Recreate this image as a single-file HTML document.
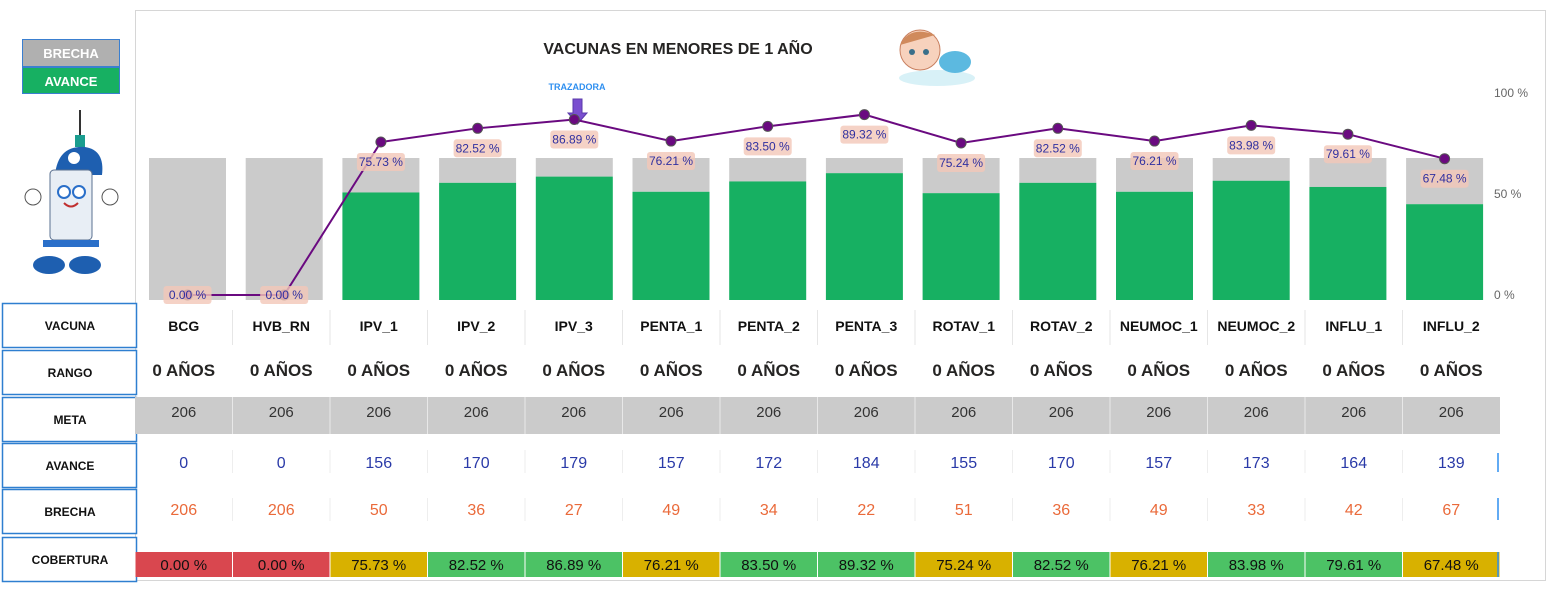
<!DOCTYPE html>
<html><head><meta charset="utf-8">
<style>
body{margin:0;background:#fff;font-family:"Segoe UI","Liberation Sans","DejaVu Sans",sans-serif;}
svg text{font-family:"Liberation Sans","DejaVu Sans",sans-serif;}
</style></head>
<body>
<svg id="c" width="1550" height="587" viewBox="0 0 1550 587" xmlns="http://www.w3.org/2000/svg">
<rect x="135.5" y="10.5" width="1410" height="570" fill="#fff" stroke="#d6d6d6"/>
<g>
<rect x="22.5" y="39.5" width="97" height="27" fill="#b0b0b0" stroke="#3a7fd0"/>
<text x="71" y="58" text-anchor="middle" font-size="13" font-weight="bold" fill="#fff">BRECHA</text>
<rect x="22.5" y="67.5" width="97" height="26" fill="#17b062" stroke="#3a7fd0"/>
<text x="71" y="86" text-anchor="middle" font-size="13" font-weight="bold" fill="#fff">AVANCE</text>
</g>
<g>
<line x1="80" y1="110" x2="80" y2="140" stroke="#333" stroke-width="2"/>
<rect x="75" y="135" width="10" height="12" fill="#1a9d8f"/>
<path d="M55 175 Q58 145 85 147 Q105 150 102 175 Z" fill="#1e5fb0"/>
<circle cx="74" cy="158" r="6" fill="#fff"/>
<rect x="50" y="170" width="42" height="70" rx="4" fill="#e8eef5" stroke="#5a7090"/>
<circle cx="64" cy="192" r="6" fill="#fff" stroke="#2a6fc9" stroke-width="2"/>
<circle cx="79" cy="192" r="6" fill="#fff" stroke="#2a6fc9" stroke-width="2"/>
<path d="M64 203 Q71 210 78 203" stroke="#c03030" stroke-width="2" fill="none"/>
<circle cx="33" cy="197" r="8" fill="#fff" stroke="#555"/>
<circle cx="110" cy="197" r="8" fill="#fff" stroke="#555"/>
<rect x="43" y="240" width="56" height="7" fill="#2a6fc9"/>
<ellipse cx="49" cy="265" rx="16" ry="9" fill="#1e5fb0"/>
<ellipse cx="85" cy="265" rx="16" ry="9" fill="#1e5fb0"/>
</g>
<text x="678" y="54" text-anchor="middle" font-size="16" font-weight="bold" fill="#252423">VACUNAS EN MENORES DE 1 AÑO</text>
<g>
<ellipse cx="937" cy="78" rx="38" ry="8" fill="#d8f1f7"/>
<circle cx="920" cy="50" r="20" fill="#f7d2bd" stroke="#c98060"/>
<path d="M900 45 Q910 25 935 35" fill="#d08a5c"/>
<ellipse cx="955" cy="62" rx="16" ry="11" fill="#5cb9e0"/>
<circle cx="912" cy="52" r="3" fill="#3a6f8a"/><circle cx="926" cy="52" r="3" fill="#3a6f8a"/>
</g>
<text x="577" y="90" text-anchor="middle" font-size="9" font-weight="bold" fill="#2e8ff0">TRAZADORA</text>
<path d="M573 99 H582 V113 H587 L577.5 124 L568 113 H573 Z" fill="#7a4fd0" stroke="#5a3aaa"/>
<g id="axis"></g>
<g id="bars"></g>
<g id="line"></g>
<g id="table"></g>
</svg>
<script>
const categories=["BCG","HVB_RN","IPV_1","IPV_2","IPV_3","PENTA_1","PENTA_2","PENTA_3","ROTAV_1","ROTAV_2","NEUMOC_1","NEUMOC_2","INFLU_1","INFLU_2"];
const meta=[206,206,206,206,206,206,206,206,206,206,206,206,206,206];
const avance=[0,0,156,170,179,157,172,184,155,170,157,173,164,139];
const brecha=[206,206,50,36,27,49,34,22,51,36,49,33,42,67];
const cobertura=[0,0,75.73,82.52,86.89,76.21,83.50,89.32,75.24,82.52,76.21,83.98,79.61,67.48];
const rango=["0 AÑOS","0 AÑOS","0 AÑOS","0 AÑOS","0 AÑOS","0 AÑOS","0 AÑOS","0 AÑOS","0 AÑOS","0 AÑOS","0 AÑOS","0 AÑOS","0 AÑOS","0 AÑOS"];
const pctTicks=[0,50,100];
const rowLabels=["VACUNA","RANGO","META","AVANCE","BRECHA","COBERTURA"];

const NS="http://www.w3.org/2000/svg";
function mk(tag,attrs,parent,txt){const e=document.createElementNS(NS,tag);for(const k in attrs)e.setAttribute(k,attrs[k]);if(txt!==undefined)e.textContent=txt;parent.appendChild(e);return e;}
const xc=i=>187.5+96.7*i;
const yBar=v=>300-v*142/206;
const yPct=p=>295-p*2.02;
const tx=i=>183.75+97.5*i;

const axis=document.getElementById('axis');
pctTicks.forEach(t=>{
 const e=mk('text',{x:1494,y:yPct(t)+4,'font-size':12,fill:'#666'},axis,t+' %');
 
 
});

const bars=document.getElementById('bars');
categories.forEach((c,i)=>{
 const total=avance[i]+brecha[i];
 const g=mk('rect',{x:xc(i)-38.5,y:yBar(total),width:77,height:yBar(avance[i])-yBar(total),fill:'#cbcbcb'},bars);
 
 
 const a=mk('rect',{x:xc(i)-38.5,y:yBar(avance[i]),width:77,height:300-yBar(avance[i]),fill:'#17b062'},bars);
 
 
});

const line=document.getElementById('line');
const pts=cobertura.map((p,i)=>xc(i)+','+yPct(p)).join(' ');
const pl=mk('polyline',{points:pts,fill:'none',stroke:'#6a0a80','stroke-width':2},line);


cobertura.forEach((p,i)=>{
 const c=mk('circle',{cx:xc(i),cy:yPct(p),r:5,fill:'#6a0a80',stroke:'#555','stroke-width':1},line);
 
 
});
cobertura.forEach((p,i)=>{
 const lbl=p.toFixed(2)+' %';
 const ly=p===0?yPct(p):yPct(p)+20;
 const r=mk('rect',{x:xc(i)-24,y:ly-9,width:48,height:18,rx:3,fill:'#f3c7b8','fill-opacity':0.8},line);
 
 
 const t=mk('text',{x:xc(i),y:ly+4,'text-anchor':'middle','font-size':12,fill:'#3030a0'},line,lbl);
 
 
});

const table=document.getElementById('table');
const rowY=[303,350,397,443,489,537];
rowLabels.forEach((l,r)=>{
 const b=mk('rect',{x:2.5,y:rowY[r]+0.5,width:134,height:44,fill:'#fff',stroke:'#2e7fd0','stroke-width':1.5},table);
 
 
 const t=mk('text',{x:70,y:rowY[r]+27,'text-anchor':'middle','font-size':12,'font-weight':'bold',fill:'#111'},table,l);
 
 
});
const mb=mk('rect',{x:135,y:397,width:1365,height:37,fill:'#cbcbcb'},table);


categories.forEach((c,i)=>{
 const x=tx(i), x0=135+97.5*i;
 if(i>0){
  const s=mk('line',{x1:x0,y1:310,x2:x0,y2:345,stroke:'#e6e6e6'},table);
  
  
  const s2=mk('line',{x1:x0,y1:397,x2:x0,y2:434,stroke:'#e8e8e8'},table);
  
  
  const s3=mk('line',{x1:x0,y1:450,x2:x0,y2:473,stroke:'#eee'},table);
  
  
  const s4=mk('line',{x1:x0,y1:498,x2:x0,y2:521,stroke:'#eee'},table);
  
  
 }
 const a=mk('text',{x:x,y:331,'text-anchor':'middle','font-size':14,'font-weight':'bold',fill:'#111'},table,c);
 
 
 const b=mk('text',{x:x,y:376,'text-anchor':'middle','font-size':17,'font-weight':'bold',fill:'#252423'},table,rango[i]);
 
 
 const m=mk('text',{x:x,y:417,'text-anchor':'middle','font-size':15,fill:'#333'},table,meta[i]);
 
 
 const av=mk('text',{x:x,y:468,'text-anchor':'middle','font-size':16,fill:'#2a3aa8'},table,avance[i]);
 
 
 const br=mk('text',{x:x,y:515,'text-anchor':'middle','font-size':16,fill:'#ea6a3a'},table,brecha[i]);
 
 
 const p=cobertura[i];
 const col=p<=0?'#d9474f':(p<78?'#d8b100':'#4cc265');
 const cr=mk('rect',{x:x0+0.5,y:552,width:96.5,height:25,fill:col},table);
 
 
 const ct=mk('text',{x:x,y:570,'text-anchor':'middle','font-size':15,fill:'#111'},table,p.toFixed(2)+' %');
 
 
});
[[1498,453,472],[1498,498,520],[1498,552,577]].forEach(d=>{
 const l=mk('line',{x1:d[0],y1:d[1],x2:d[0],y2:d[2],stroke:'#2e8ff0','stroke-width':1.5},table);
 
 
});
</script>
</body></html>
